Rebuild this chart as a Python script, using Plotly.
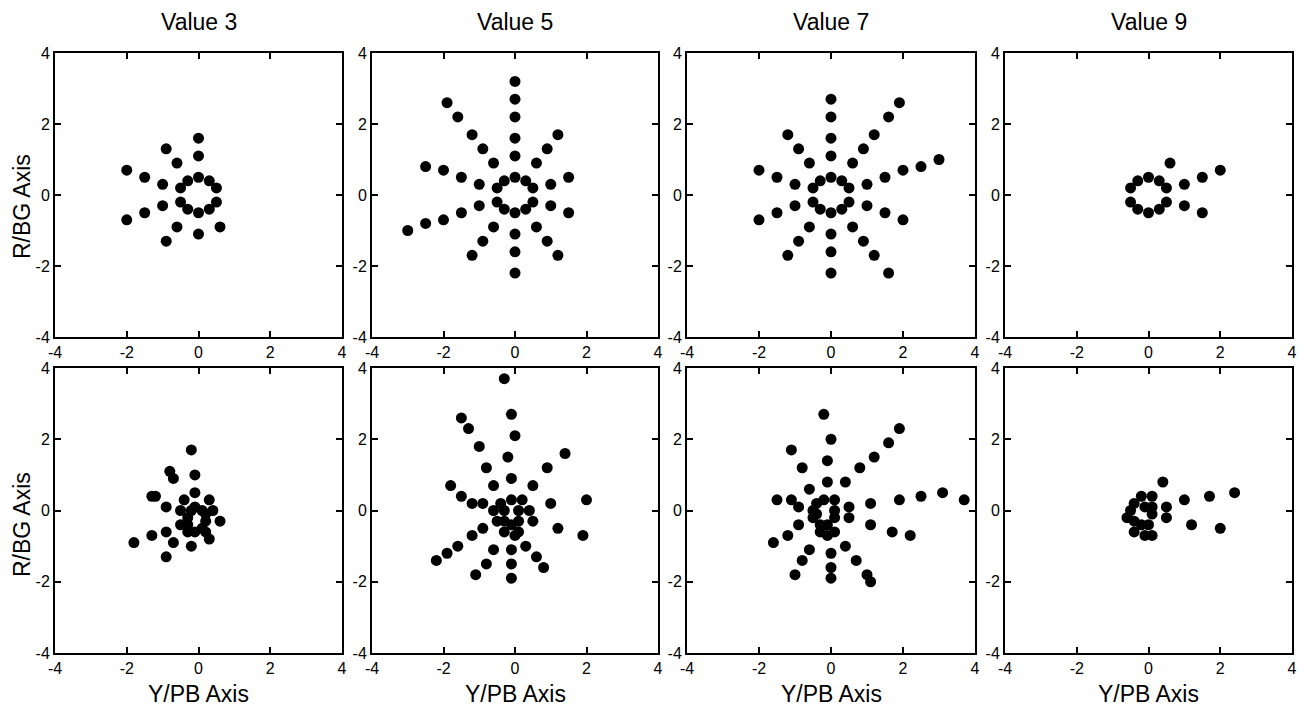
import plotly.graph_objects as go

TITLES = ["Value 3", "Value 5", "Value 7", "Value 9"]
X_TITLE = "Y/PB Axis"
Y_TITLE = "R/BG Axis"
TICKS = [-4, -2, 0, 2, 4]
TICK_TEXT = ["-4", "-2", "0", "2", "4"]

# inner ring shared by the top-row panels
RING_X = [0, 0.3, 0.5, 0.5, 0.3, 0, -0.3, -0.5, -0.5, -0.3]
RING_Y = [0.5, 0.4, 0.2, -0.2, -0.4, -0.5, -0.4, -0.2, 0.2, 0.4]

# ---- top row ----
T3_X = [0, 0, -0.9, -0.6, -2.0, -1.5, -1.0, -1.0, -1.5, -2.0, -0.6, -0.9, 0, 0.6]
T3_Y = [1.6, 1.1, 1.3, 0.9, 0.7, 0.5, 0.3, -0.3, -0.5, -0.7, -0.9, -1.3, -1.1, -0.9]

T5_X = [0, 0, 0, 0, 0, 0, 0, 0,
        -1.9, -1.6, -1.2, -0.9, -0.6,
        -2.5, -2.0, -1.5, -1.0, -1.0, -1.5, -2.0, -2.5, -3.0,
        -0.6, -0.9, -1.2,
        0.6, 0.9, 1.2, 1.0, 1.5, 1.0, 1.5, 0.6, 0.9, 1.2]
T5_Y = [3.2, 2.7, 2.2, 1.6, 1.1, -1.1, -1.6, -2.2,
        2.6, 2.2, 1.7, 1.3, 0.9,
        0.8, 0.7, 0.5, 0.3, -0.3, -0.5, -0.7, -0.8, -1.0,
        -0.9, -1.3, -1.7,
        0.9, 1.3, 1.7, 0.3, 0.5, -0.3, -0.5, -0.9, -1.3, -1.7]

T7_X = [0, 0, 0, 0, 0, 0, 0,
        -1.2, -0.9, -0.6, -2.0, -1.5, -1.0, -1.0, -1.5, -2.0, -0.6, -0.9, -1.2,
        0.6, 0.9, 1.2, 1.6, 1.9,
        1.0, 1.5, 2.0, 2.5, 3.0,
        1.0, 1.5, 2.0, 0.6, 0.9, 1.2, 1.6]
T7_Y = [2.7, 2.2, 1.6, 1.1, -1.1, -1.6, -2.2,
        1.7, 1.3, 0.9, 0.7, 0.5, 0.3, -0.3, -0.5, -0.7, -0.9, -1.3, -1.7,
        0.9, 1.3, 1.7, 2.2, 2.6,
        0.3, 0.5, 0.7, 0.8, 1.0,
        -0.3, -0.5, -0.7, -0.9, -1.3, -1.7, -2.2]

T9_X = [0.6, 1.0, 1.5, 2.0, 1.0, 1.5]
T9_Y = [0.9, 0.3, 0.5, 0.7, -0.3, -0.5]

# ---- bottom row ----
B3_X = [-0.2, -0.1, -0.8, -0.7, -1.3, -1.2, -0.1, -0.4, 0.3, -0.9, -0.5, 0.4, 0.6,
        -0.5, -1.3, -0.9, -1.8, -0.7, -0.2, -0.9, 0.2, 0.3,
        -0.1, 0.1, 0.2, 0.2, 0.1, -0.1, -0.3, -0.3, -0.3, -0.2]
B3_Y = [1.7, 1.0, 1.1, 0.9, 0.4, 0.4, 0.5, 0.3, 0.3, 0.1, 0.0, 0.0, -0.3,
        -0.4, -0.7, -0.6, -0.9, -0.9, -1.0, -1.3, -0.6, -0.8,
        0.1, 0.0, -0.1, -0.3, -0.5, -0.6, -0.6, -0.4, -0.2, 0.0]

B5_X = [-0.3, -0.1, 0.0, -0.2, -0.1,
        -1.5, -1.3, -1.0, -0.8, -0.6,
        -1.8, -1.5, -1.2, -0.9, -0.6,
        -0.9, -1.2, -1.6, -1.9, -2.2,
        -0.6, -0.8, -1.1, -0.1, -0.1, -0.1,
        0.3, 0.6, 0.8, 0.5, 0.9, 1.4, 1.0, 2.0, 1.2, 1.9,
        0.5, 0.4, 0.2,
        -0.4, -0.1, 0.1, 0.1, 0.0, 0.1, -0.1, -0.3, -0.5, -0.3, -0.3]
B5_Y = [3.7, 2.7, 2.1, 1.5, 0.9,
        2.6, 2.3, 1.8, 1.2, 0.7,
        0.7, 0.4, 0.2, 0.2, 0.0,
        -0.5, -0.7, -1.0, -1.2, -1.4,
        -1.1, -1.5, -1.8, -1.1, -1.5, -1.9,
        -1.0, -1.3, -1.6, 0.7, 1.2, 1.6, 0.2, 0.3, -0.5, -0.7,
        -0.3, 0.0, 0.3,
        0.2, 0.3, 0.0, -0.3, -0.7, -0.6, -0.4, -0.6, -0.3, 0.0, -0.3]

B7_X = [-0.2, 0.0, -0.1, -0.1,
        -1.1, -0.8, -0.6,
        -1.5, -1.1, -0.9, -0.9, -1.2, -1.6,
        -0.6, -0.8, -1.0, 0.0, 0.0, 0.0,
        0.4, 0.7, 1.0, 1.1,
        0.4, 0.8, 1.2, 1.6, 1.9,
        1.1, 1.9, 2.5, 3.1, 3.7,
        1.1, 1.7, 2.2,
        0.5, 0.5, 0.1,
        0.1, -0.2, -0.4, -0.5, -0.5, -0.3, -0.3, -0.1, -0.1, 0.1, 0.1, -0.4]
B7_Y = [2.7, 2.0, 1.4, 0.8,
        1.7, 1.2, 0.6,
        0.3, 0.3, 0.1, -0.4, -0.7, -0.9,
        -1.1, -1.4, -1.8, -1.2, -1.6, -1.9,
        -1.0, -1.4, -1.8, -2.0,
        0.8, 1.2, 1.5, 1.9, 2.3,
        0.2, 0.3, 0.4, 0.5, 0.3,
        -0.4, -0.6, -0.7,
        0.1, -0.2, -0.6,
        0.3, 0.3, 0.2, 0.0, -0.2, -0.4, -0.6, -0.7, -0.4, 0.0, -0.2, -0.1]

B9_X = [0.4, 1.0, 1.7, 2.4, 0.5, 0.5, 1.2, 2.0,
        -0.2, 0.1, 0.1, 0.1, 0.0, -0.2, -0.1, 0.1, -0.4, -0.4, -0.5, -0.6, -0.4, -0.1]
B9_Y = [0.8, 0.3, 0.4, 0.5, 0.1, -0.2, -0.4, -0.5,
        0.4, 0.4, 0.1, -0.1, -0.4, -0.4, -0.7, -0.7, -0.6, 0.2, 0.0, -0.2, -0.3, 0.1]

PANELS = [
    (T3_X + RING_X, T3_Y + RING_Y),
    (T5_X + RING_X, T5_Y + RING_Y),
    (T7_X + RING_X, T7_Y + RING_Y),
    (T9_X + RING_X, T9_Y + RING_Y),
    (B3_X, B3_Y),
    (B5_X, B5_Y),
    (B7_X, B7_Y),
    (B9_X, B9_Y),
]

W, H = 1306, 706
COLS_PX = [(55, 342), (372, 658), (687, 975), (1005, 1292)]
ROWS_PX = [(53, 337), (368, 653)]
FONT = "Liberation Sans, Arial, sans-serif"

fig = go.Figure()
layout = {}
for i, (px, py) in enumerate(PANELS):
    r, c = divmod(i, 4)
    n = i + 1
    xa = "x" if n == 1 else f"x{n}"
    ya = "y" if n == 1 else f"y{n}"
    fig.add_trace(go.Scatter(x=px, y=py, mode="markers", xaxis=xa, yaxis=ya,
                             marker=dict(size=11, color="black"), showlegend=False,
                             hoverinfo="x+y"))
    x0, x1 = COLS_PX[c]
    y0, y1 = ROWS_PX[r]
    common = dict(range=[-4, 4], tickvals=TICKS, ticktext=TICK_TEXT, ticks="inside",
                  ticklen=6, tickwidth=2, tickcolor="black", showline=True,
                  linecolor="black", linewidth=2, mirror="ticks", showgrid=False,
                  zeroline=False, fixedrange=True, automargin=False,
                  tickfont=dict(family=FONT, size=16, color="black"))
    layout["xaxis" if n == 1 else f"xaxis{n}"] = dict(
        domain=[x0 / W, x1 / W], anchor=ya, ticklabelstandoff=0, **common)
    layout["yaxis" if n == 1 else f"yaxis{n}"] = dict(
        domain=[1 - y1 / H, 1 - y0 / H], anchor=xa, ticklabelstandoff=0, **common)

annotations = []
for c, t in enumerate(TITLES):
    x0, x1 = COLS_PX[c]
    annotations.append(dict(text=t, x=(x0 + x1) / 2 / W, y=1 - 22 / H, xref="paper",
                            yref="paper", showarrow=False, xanchor="center",
                            yanchor="middle", font=dict(family=FONT, size=23, color="black")))
    annotations.append(dict(text=X_TITLE, x=(x0 + x1) / 2 / W, y=1 - 694 / H, xref="paper",
                            yref="paper", showarrow=False, xanchor="center",
                            yanchor="middle", font=dict(family=FONT, size=23, color="black")))
for r, yc in enumerate([207, 525]):
    annotations.append(dict(text=Y_TITLE, x=22 / W, y=1 - yc / H, xref="paper",
                            yref="paper", showarrow=False, textangle=-90,
                            xanchor="center", yanchor="middle",
                            font=dict(family=FONT, size=23, color="black")))

fig.update_layout(width=W, height=H, margin=dict(l=0, r=0, t=0, b=0, autoexpand=False),
                  paper_bgcolor="white", plot_bgcolor="white",
                  annotations=annotations, **layout)
fig.write_html("out.html", config={"displayModeBar": False})

# remove the default page margin so the figure sits at the window's top-left corner
with open("out.html", encoding="utf-8") as f:
    html = f.read()
html = html.replace("<body>", '<body style="margin:0;padding:0;overflow:hidden">', 1)
with open("out.html", "w", encoding="utf-8") as f:
    f.write(html)
